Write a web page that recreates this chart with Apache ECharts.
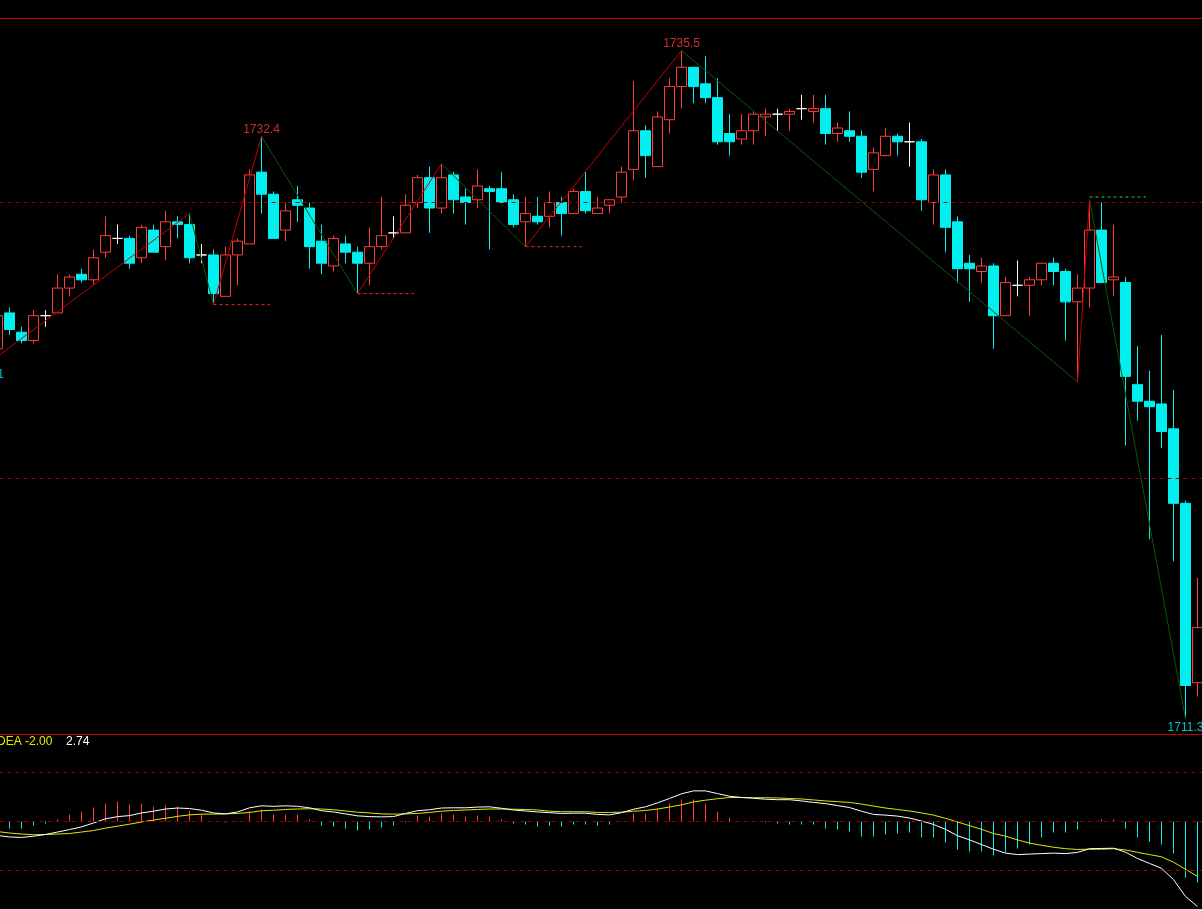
<!DOCTYPE html>
<html><head><meta charset="utf-8">
<script src="https://cdn.jsdelivr.net/npm/echarts@6/dist/echarts.min.js"></script>
<style>html,body{margin:0;padding:0;background:#000;overflow:hidden}#c{width:1202px;height:909px;}</style>
</head><body><div id="c"></div>
<script>
const categories = ['1','2','3','4','5','6','7','8','9','10','11','12','13','14','15','16','17','18','19','20',
'21','22','23','24','25','26','27','28','29','30','31','32','33','34','35','36','37','38','39','40',
'41','42','43','44','45','46','47','48','49','50','51','52','53','54','55','56','57','58','59','60',
'61','62','63','64','65','66','67','68','69','70','71','72','73','74','75','76','77','78','79','80',
'81','82','83','84','85','86','87','88','89','90','91','92','93','94','95','96','97','98','99','100','101'];

const openP = [1724.7,1726.0,1725.3,1725.0,1725.9,1726.0,1726.9,1727.4,1727.2,1728.2,
1728.7,1728.7,1728.0,1729.0,1728.4,1729.3,1729.2,1728.1,1728.1,1726.6,
1728.1,1728.5,1731.1,1730.3,1729.0,1730.1,1729.8,1728.6,1727.7,1728.5,
1728.2,1727.8,1728.4,1728.9,1728.9,1730.0,1730.9,1729.8,1731.0,1730.2,
1730.1,1730.5,1730.5,1730.1,1729.3,1729.5,1729.5,1730.0,1729.6,1730.4,
1729.6,1729.9,1730.2,1731.2,1732.6,1731.3,1733.0,1734.2,1734.9,1734.3,
1733.8,1732.5,1732.3,1732.6,1733.1,1733.2,1733.2,1733.4,1733.3,1733.4,
1732.5,1732.6,1732.4,1731.2,1731.7,1732.4,1732.2,1732.2,1730.0,1731.0,
1729.3,1727.8,1727.5,1727.7,1725.9,1727.0,1727.0,1727.2,1727.8,1727.5,
1726.4,1726.9,1729.0,1727.2,1727.1,1723.4,1722.8,1722.7,1721.8,1719.1,1712.6];
const closeP = [1725.9,1725.4,1725.0,1725.9,1725.9,1726.9,1727.3,1727.2,1728.0,1728.8,
1728.7,1727.8,1729.1,1728.2,1729.3,1729.2,1728.0,1728.1,1726.7,1728.1,
1728.6,1731.0,1730.3,1728.7,1729.7,1729.9,1728.4,1727.8,1728.7,1728.2,
1727.8,1728.4,1728.8,1728.9,1729.9,1730.9,1729.8,1730.9,1730.1,1730.0,
1730.6,1730.4,1730.0,1729.2,1729.6,1729.3,1730.0,1729.6,1730.4,1729.7,
1729.8,1730.1,1731.1,1732.6,1731.7,1733.1,1734.2,1734.9,1734.2,1733.8,
1732.2,1732.2,1732.6,1733.2,1733.2,1733.2,1733.3,1733.4,1733.4,1732.5,
1732.7,1732.4,1731.1,1731.8,1732.4,1732.2,1732.2,1730.1,1731.0,1729.1,
1727.6,1727.6,1727.7,1725.9,1727.1,1727.0,1727.2,1727.8,1727.5,1726.4,
1726.9,1729.0,1727.1,1727.3,1723.7,1722.8,1722.6,1721.7,1719.1,1712.5,1714.6];
const lowP = [1724.6,1725.2,1724.9,1724.9,1725.5,1726.0,1726.6,1727.1,1727.0,1728.0,
1728.5,1727.6,1727.8,1728.2,1727.9,1728.7,1727.8,1727.8,1726.3,1726.6,
1727.0,1728.5,1729.6,1728.7,1728.6,1729.3,1727.6,1727.4,1727.5,1727.8,
1726.7,1727.0,1728.3,1728.7,1728.9,1729.8,1728.9,1729.6,1729.6,1729.2,
1729.8,1728.3,1730.0,1729.1,1728.4,1729.2,1729.1,1728.8,1729.6,1729.6,
1729.6,1729.6,1730.0,1730.8,1730.9,1731.3,1732.5,1733.4,1733.6,1733.6,
1732.1,1731.7,1732.1,1732.1,1732.4,1732.6,1732.6,1733.0,1732.9,1732.1,
1732.2,1732.2,1730.9,1730.4,1731.7,1731.7,1731.3,1729.7,1729.2,1728.2,
1727.1,1726.4,1727.1,1724.7,1725.9,1726.6,1725.9,1727.0,1727.0,1725.0,
1723.5,1726.2,1727.1,1726.6,1721.2,1722.1,1717.8,1721.1,1717.0,1711.3,1712.1];
const highP = [1726.1,1726.2,1725.5,1726.1,1726.1,1727.4,1727.4,1727.6,1728.3,1729.5,
1729.2,1728.8,1729.2,1729.2,1729.7,1729.5,1729.6,1728.5,1728.3,1728.4,
1728.7,1731.2,1732.4,1730.4,1730.0,1730.6,1730.0,1729.2,1728.8,1728.8,
1728.4,1729.1,1730.2,1729.5,1730.3,1731.0,1731.3,1731.4,1731.1,1730.5,
1731.2,1730.6,1731.1,1730.3,1730.2,1730.2,1730.4,1730.2,1730.5,1731.1,
1730.2,1730.1,1731.3,1734.4,1732.8,1733.3,1734.5,1735.5,1734.9,1735.3,
1734.5,1733.2,1733.2,1733.3,1733.4,1733.4,1733.4,1733.9,1733.9,1733.9,
1732.9,1733.3,1732.6,1732.0,1732.7,1732.5,1732.9,1732.3,1731.2,1731.2,
1729.5,1728.1,1728.0,1727.8,1727.3,1727.9,1727.3,1727.8,1728.0,1727.6,
1727.4,1730.1,1730.0,1729.2,1727.3,1724.8,1723.9,1725.2,1723.2,1719.2,1716.4];

const difV = [-0.57,-0.63,-0.65,-0.60,-0.53,-0.43,-0.33,-0.22,-0.06,0.11,
0.20,0.24,0.35,0.42,0.51,0.55,0.53,0.46,0.35,0.31,
0.39,0.56,0.64,0.62,0.64,0.62,0.56,0.44,0.39,0.31,
0.23,0.20,0.19,0.20,0.33,0.44,0.48,0.55,0.56,0.56,
0.59,0.60,0.54,0.47,0.43,0.39,0.36,0.33,0.34,0.34,
0.29,0.27,0.36,0.50,0.60,0.76,0.94,1.13,1.25,1.25,
1.14,1.03,0.98,0.95,0.91,0.89,0.89,0.84,0.78,0.73,
0.65,0.57,0.42,0.29,0.26,0.22,0.14,0.02,-0.12,-0.32,
-0.58,-0.75,-0.94,-1.13,-1.29,-1.35,-1.33,-1.31,-1.29,-1.31,
-1.26,-1.11,-1.10,-1.09,-1.25,-1.51,-1.71,-1.91,-2.37,-3.06,-3.47];
const deaV = [-0.41,-0.47,-0.51,-0.54,-0.53,-0.51,-0.49,-0.43,-0.37,-0.27,
-0.19,-0.11,-0.02,0.06,0.13,0.21,0.27,0.30,0.30,0.31,
0.33,0.37,0.44,0.46,0.49,0.51,0.52,0.51,0.48,0.43,
0.38,0.35,0.31,0.30,0.31,0.33,0.37,0.42,0.45,0.47,
0.49,0.51,0.51,0.50,0.49,0.47,0.42,0.40,0.40,0.40,
0.37,0.37,0.38,0.42,0.45,0.51,0.59,0.68,0.80,0.87,
0.93,0.98,0.98,0.97,0.97,0.96,0.94,0.92,0.88,0.84,
0.81,0.78,0.71,0.63,0.55,0.49,0.43,0.35,0.26,0.13,
-0.02,-0.17,-0.32,-0.49,-0.60,-0.75,-0.88,-0.97,-1.05,-1.11,
-1.14,-1.13,-1.13,-1.11,-1.16,-1.26,-1.35,-1.44,-1.66,-1.95,-2.24];
const macdV = [-0.29,-0.29,-0.29,-0.16,-0.08,0.08,0.29,0.41,0.57,0.73,
0.82,0.69,0.73,0.61,0.65,0.61,0.45,0.29,0,-0.04,
0.02,0.41,0.49,0.29,0.29,0.29,0.08,-0.16,-0.20,-0.29,
-0.37,-0.33,-0.24,-0.16,-0.04,0.24,0.20,0.33,0.29,0.20,
0.24,0.20,0.08,-0.08,-0.12,-0.20,-0.16,-0.20,-0.12,-0.12,
-0.16,-0.12,0.02,0.33,0.33,0.53,0.73,0.90,0.90,0.73,
0.41,0.16,0,0,-0.04,-0.08,-0.12,-0.12,-0.12,-0.29,
-0.33,-0.41,-0.61,-0.61,-0.53,-0.49,-0.45,-0.65,-0.65,-0.86,
-1.14,-1.22,-1.22,-1.39,-1.27,-1.10,-0.94,-0.65,-0.45,-0.45,
-0.33,0.02,0.08,0.08,-0.29,-0.65,-0.82,-0.94,-1.31,-2.29,-2.49];

// zigzag pivots: bar position (0 = second bar on screen) and price
const zigzagIdx = [-2, 15, 17, 21, 29, 36, 43, 56, 89, 90, 98];
const zigzagPrice = [1724.1, 1729.6, 1726.3, 1732.4, 1726.7, 1731.4, 1728.4, 1735.5, 1723.5, 1730.1, 1711.3];
// labelled extremes
const labelIdx = [-2, 21, 56, 98];
const labelPrice = [1724.1, 1732.4, 1735.5, 1711.3];
const labelKind = ['low', 'high', 'high', 'low'];
// short dashed support / resistance marks
const markIdx = [17, 29, 43, 90];
const markPrice = [1726.3, 1726.7, 1728.4, 1730.2];
const markKind = ['low', 'low', 'low', 'high'];
const markSpan = 4.7;
const priceGuides = [1720, 1730];
const macdGuides = [-2, 0, 2];
const headerDea = 'DEA -2.00';
const headerMacd = '2.74';

const RED = '#ff3b3b', CYAN = '#00f0f0', WHITE = '#ffffff', YELLOW = '#e6e600';
const ZRED = '#c40000', ZGREEN = '#0c560c', GUIDE = '#990000', BORDER = '#c80000';
const FONT = 'Liberation Sans';

const chart = echarts.init(document.getElementById('c'), null, {renderer: 'canvas'});

const candleData = openP.map((o, i) => {
  const v = [o, closeP[i], lowP[i], highP[i]];
  if (o === closeP[i]) {
    return {value: v, itemStyle: {color: WHITE, color0: WHITE, borderColor: WHITE, borderColor0: WHITE}};
  }
  return v;
});

const series = [];
series.push({
  type: 'line', xAxisIndex: 1, yAxisIndex: 0, data: [], z: 1, silent: true,
  markLine: {silent: true, symbol: 'none', animation: false, label: {show: false},
    lineStyle: {color: GUIDE, type: [4, 4], width: 1},
    data: priceGuides.map(v => ({yAxis: v}))}
});
series.push({
  type: 'candlestick', xAxisIndex: 0, yAxisIndex: 0, barWidth: 10, z: 3, silent: true,
  itemStyle: {color: '#000000', color0: CYAN, borderColor: RED, borderColor0: CYAN, borderWidth: 1},
  data: candleData
});
for (let j = 0; j < zigzagIdx.length - 1; j++) {
  const up = zigzagPrice[j + 1] > zigzagPrice[j];
  series.push({
    type: 'line', xAxisIndex: 1, yAxisIndex: 0, z: 4, silent: true, showSymbol: false,
    lineStyle: {color: up ? ZRED : ZGREEN, width: 1},
    data: [[zigzagIdx[j], zigzagPrice[j]], [zigzagIdx[j + 1], zigzagPrice[j + 1]]]
  });
}
for (let j = 0; j < markIdx.length; j++) {
  series.push({
    type: 'line', xAxisIndex: 1, yAxisIndex: 0, z: 4, silent: true, showSymbol: false,
    lineStyle: {color: markKind[j] === 'low' ? '#ff2020' : '#30d030', width: 1, type: [3, 3]},
    data: [[markIdx[j], markPrice[j]], [markIdx[j] + markSpan, markPrice[j]]]
  });
}
series.push({
  type: 'scatter', xAxisIndex: 1, yAxisIndex: 0, z: 6, silent: true, symbolSize: 0, clip: false,
  data: labelIdx.map((k, i) => ({
    value: [k, labelPrice[i]],
    label: {show: true, formatter: labelPrice[i].toFixed(1),
      position: labelKind[i] === 'high' ? 'top' : 'bottom',
      distance: labelKind[i] === 'high' ? 1 : 3,
      color: labelKind[i] === 'high' ? RED : CYAN,
      fontFamily: FONT, fontSize: 12}
  }))
});
series.push({
  type: 'line', xAxisIndex: 2, yAxisIndex: 1, data: [], z: 1, silent: true,
  markLine: {silent: true, symbol: 'none', animation: false, label: {show: false},
    lineStyle: {color: GUIDE, type: [4, 4], width: 1},
    data: macdGuides.map(v => ({yAxis: v}))}
});
series.push({
  type: 'bar', xAxisIndex: 2, yAxisIndex: 1, barWidth: 1, z: 2, silent: true,
  itemStyle: {color: p => (p.value >= 0 ? RED : CYAN)},
  data: macdV
});
series.push({
  type: 'line', xAxisIndex: 2, yAxisIndex: 1, z: 3, silent: true, showSymbol: false,
  lineStyle: {color: YELLOW, width: 1}, data: deaV
});
series.push({
  type: 'line', xAxisIndex: 2, yAxisIndex: 1, z: 4, silent: true, showSymbol: false,
  lineStyle: {color: WHITE, width: 1}, data: difV
});

chart.setOption({
  backgroundColor: '#000000',
  animation: false,
  grid: [
    {left: -8.5, width: 1212, top: 18.5, height: 716, show: true, borderColor: BORDER, borderWidth: 1,
     backgroundColor: 'transparent', outerBoundsMode: 'none', containLabel: false},
    {left: -8.5, width: 1212, top: 734.5, height: 174.5, show: false, outerBoundsMode: 'none', containLabel: false}
  ],
  xAxis: [
    {type: 'category', gridIndex: 0, data: categories, boundaryGap: true, show: false},
    {type: 'value', gridIndex: 0, min: -1.5, max: 99.5, show: false},
    {type: 'category', gridIndex: 1, data: categories, boundaryGap: true, show: false}
  ],
  yAxis: [
    {type: 'value', gridIndex: 0, min: 1710.725, max: 1736.667, show: false, splitLine: {show: false}},
    {type: 'value', gridIndex: 1, min: -3.571, max: 3.551, show: false, splitLine: {show: false}}
  ],
  graphic: [
    {type: 'text', x: -3, y: 736, silent: true, style: {text: headerDea, fill: YELLOW, font: '12px "' + FONT + '"', verticalAlign: 'top'}},
    {type: 'text', x: 66, y: 736, silent: true, style: {text: headerMacd, fill: WHITE, font: '12px "' + FONT + '"', verticalAlign: 'top'}}
  ],
  series: series
});
</script>
</body></html>
